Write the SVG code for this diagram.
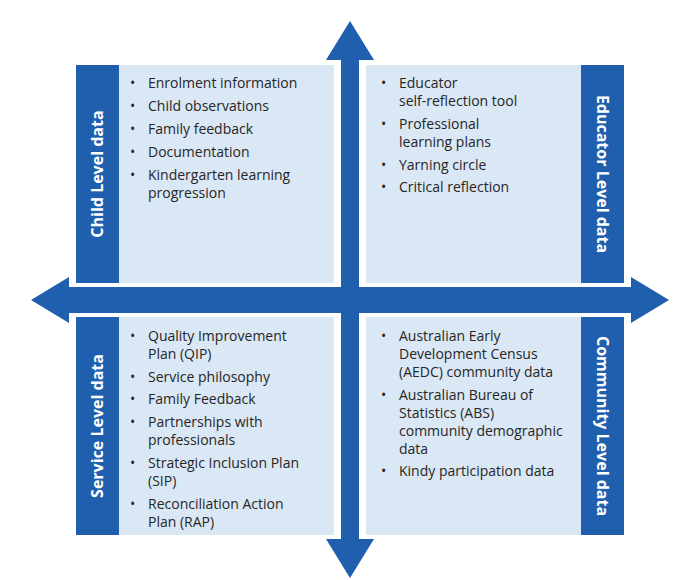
<svg xmlns="http://www.w3.org/2000/svg" width="700" height="580" viewBox="0 0 700 580">
<style>
.box{fill:#DAE7F4}.bar{fill:#1F5FAE}.arr{fill:#1F5FAE}
text{font-family:"Open Sans","Noto Sans",sans-serif;font-size:14px;fill:#262626}
.lab{font-size:16px;font-weight:bold;fill:#fff}
</style>
<rect width="700" height="580" fill="#fff"/>
<g id="child"><rect class="box" x="119" y="65" width="215" height="218"/><rect class="bar" x="76" y="65" width="43" height="218"/>
<text class="lab" transform="translate(103,174) rotate(-90)" text-anchor="middle">Child Level data</text>
<text x="130" y="88">•</text><text x="148" y="88">Enrolment information</text>
<text x="130" y="111">•</text><text x="148" y="111">Child observations</text>
<text x="130" y="134">•</text><text x="148" y="134">Family feedback</text>
<text x="130" y="157">•</text><text x="148" y="157">Documentation</text>
<text x="130" y="180">•</text><text x="148" y="180">Kindergarten learning</text><text x="148" y="198">progression</text></g>
<g id="educator"><rect class="box" x="366" y="65" width="215" height="218"/><rect class="bar" x="581" y="65" width="43" height="218"/>
<text class="lab" transform="translate(597,174) rotate(90)" text-anchor="middle">Educator Level data</text>
<text x="381" y="88">•</text><text x="399" y="88">Educator</text><text x="399" y="106">self-reflection tool</text>
<text x="381" y="129">•</text><text x="399" y="129">Professional</text><text x="399" y="147">learning plans</text>
<text x="381" y="170">•</text><text x="399" y="170">Yarning circle</text>
<text x="381" y="192">•</text><text x="399" y="192">Critical reflection</text></g>
<g id="service"><rect class="box" x="119" y="317" width="215" height="218"/><rect class="bar" x="76" y="317" width="43" height="218"/>
<text class="lab" transform="translate(103,426) rotate(-90)" text-anchor="middle">Service Level data</text>
<text x="130" y="341">•</text><text x="148" y="341">Quality Improvement</text><text x="148" y="359">Plan (QIP)</text>
<text x="130" y="382">•</text><text x="148" y="382">Service philosophy</text>
<text x="130" y="404">•</text><text x="148" y="404">Family Feedback</text>
<text x="130" y="427">•</text><text x="148" y="427">Partnerships with</text><text x="148" y="445">professionals</text>
<text x="130" y="468">•</text><text x="148" y="468">Strategic Inclusion Plan</text><text x="148" y="486">(SIP)</text>
<text x="130" y="509">•</text><text x="148" y="509">Reconciliation Action</text><text x="148" y="527">Plan (RAP)</text></g>
<g id="community"><rect class="box" x="366" y="317" width="215" height="218"/><rect class="bar" x="581" y="317" width="43" height="218"/>
<text class="lab" transform="translate(597,426) rotate(90)" text-anchor="middle">Community Level data</text>
<text x="381" y="341">•</text><text x="399" y="341">Australian Early</text><text x="399" y="359">Development Census</text><text x="399" y="377">(AEDC) community data</text>
<text x="381" y="400">•</text><text x="399" y="400">Australian Bureau of</text><text x="399" y="418">Statistics (ABS)</text><text x="399" y="436">community demographic</text><text x="399" y="454">data</text>
<text x="381" y="476">•</text><text x="399" y="476">Kindy participation data</text></g>
<g id="connectors">
<polygon class="arr" points="350,21 374,60 359,60 359,539 374,539 350,578 326,539 341,539 341,60 326,60"/>
<polygon class="arr" points="31,300 69,277 69,287 631,287 631,277 669,300 631,323 631,313 69,313 69,323"/>
</g>
</svg>
